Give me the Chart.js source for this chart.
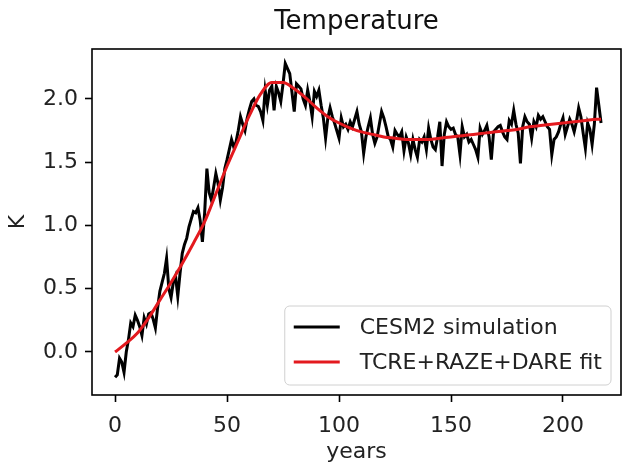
<!DOCTYPE html>
<html>
<head>
<meta charset="utf-8">
<script src="https://cdn.jsdelivr.net/npm/chart.js@4"></script>
<style>
  body { margin: 0; background: #fff; }
  canvas { display: block; }
</style>
</head>
<body>
<canvas id="tempChart" width="624" height="465"></canvas>
<script>
// CESM2 simulated temperature, one value per year (year 0..217)
const simTemp = [
  -0.20, -0.18, -0.05, -0.08, -0.16, 0.00, 0.10, 0.23, 0.20, 0.29,
  0.25, 0.20, 0.13, 0.27, 0.22, 0.30, 0.31, 0.26, 0.19, 0.35,
  0.48, 0.55, 0.62, 0.74, 0.50, 0.43, 0.55, 0.60, 0.44, 0.62,
  0.78, 0.85, 0.90, 0.99, 1.05, 1.11, 1.10, 1.14, 1.04, 0.87,
  1.10, 1.45, 1.26, 1.20, 1.30, 1.41, 1.33, 1.20, 1.30, 1.45,
  1.52, 1.60, 1.68, 1.62, 1.66, 1.75, 1.86, 1.80, 1.75, 1.85,
  1.92, 1.98, 2.00, 1.95, 1.94, 1.90, 1.83, 2.07, 1.95, 2.07,
  2.10, 1.91, 2.10, 2.05, 1.98, 2.12, 2.28, 2.24, 2.20, 2.05,
  1.90, 2.12, 2.10, 2.08, 2.00, 1.95, 2.07, 1.98, 1.86, 2.06,
  2.02, 2.07, 1.95, 1.85, 1.69, 1.85, 1.93, 1.86, 1.81, 1.75,
  1.69, 1.85, 1.78, 1.80, 1.76, 1.82, 1.78, 1.84, 1.90, 1.80,
  1.74, 1.57, 1.70, 1.78, 1.85, 1.72, 1.65, 1.70, 1.80, 1.90,
  1.85, 1.78, 1.70, 1.68, 1.62, 1.75, 1.72, 1.70, 1.74, 1.59,
  1.70, 1.65, 1.56, 1.68, 1.60, 1.54, 1.68, 1.66, 1.70, 1.60,
  1.77, 1.68, 1.62, 1.60, 1.70, 1.82, 1.47, 1.72, 1.82, 1.78,
  1.76, 1.77, 1.72, 1.70, 1.56, 1.78, 1.70, 1.72, 1.66, 1.68,
  1.64, 1.60, 1.54, 1.77, 1.72, 1.75, 1.79, 1.70, 1.52, 1.74,
  1.76, 1.78, 1.79, 1.74, 1.70, 1.68, 1.83, 1.80, 1.91, 1.80,
  1.73, 1.49, 1.78, 1.86, 1.82, 1.80, 1.69, 1.82, 1.78, 1.87,
  1.84, 1.86, 1.82, 1.78, 1.76, 1.56, 1.68, 1.70, 1.74, 1.80,
  1.85, 1.72, 1.78, 1.84, 1.80, 1.74, 1.82, 1.93, 1.86, 1.73,
  1.61, 1.81, 1.76, 1.64, 1.80, 2.09, 1.95, 1.81
];

// TCRE+RAZE+DARE fit, read every 5 years
const fitYears = [0, 5, 10, 15, 20, 25, 30, 35, 40, 45, 50, 55, 60, 65, 70, 75, 80, 85, 90, 95,
  100, 105, 110, 115, 120, 125, 130, 135, 140, 145, 150, 155, 160, 165, 170, 175, 180, 185,
  190, 195, 200, 205, 210, 215, 217];
const fitTemp = [0.00, 0.07, 0.15, 0.27, 0.41, 0.55, 0.70, 0.86, 1.03, 1.25, 1.47, 1.67, 1.87,
  2.04, 2.13, 2.13, 2.08, 2.01, 1.93, 1.86, 1.81, 1.77, 1.74, 1.72, 1.70, 1.69, 1.68, 1.68,
  1.68, 1.69, 1.70, 1.71, 1.72, 1.73, 1.74, 1.75, 1.76, 1.78, 1.79, 1.80, 1.81, 1.82, 1.83,
  1.84, 1.84];

const xTicks = [0, 50, 100, 150, 200];
const yTicks = [0.0, 0.5, 1.0, 1.5, 2.0];

const FONT = '"DejaVu Sans", sans-serif';
Chart.defaults.font.family = FONT;
Chart.defaults.color = '#000';

// matplotlib-style full box around the axes
const frameBox = {
  id: 'frameBox',
  afterDatasetsDraw(chart) {
    const { ctx, chartArea: a } = chart;
    ctx.save();
    ctx.strokeStyle = '#000';
    ctx.lineWidth = 1.6;
    ctx.strokeRect(a.left, a.top, a.right - a.left, a.bottom - a.top);
    ctx.restore();
  }
};

// legend drawn inside the lower right corner of the axes
const innerLegend = {
  id: 'innerLegend',
  afterDraw(chart) {
    const { ctx, chartArea: a } = chart;
    const sets = chart.data.datasets;
    ctx.save();
    ctx.font = '22px ' + FONT;
    const textW = Math.max(...sets.map(d => ctx.measureText(d.label).width));
    const pad = 9, handle = 46, gap = 20;
    const w = pad + handle + gap + textW + pad;
    const h = 79;
    const right = a.right - 10, bottom = a.bottom - 10;
    const left = right - w, top = bottom - h;

    ctx.beginPath();
    ctx.roundRect(left, top, w, h, 5);
    ctx.fillStyle = 'rgba(255,255,255,0.8)';
    ctx.fill();
    ctx.strokeStyle = '#d0d0d0';
    ctx.lineWidth = 1;
    ctx.stroke();

    const rows = [top + 21, top + 56];
    sets.forEach((d, i) => {
      const y = rows[i];
      ctx.beginPath();
      ctx.moveTo(left + pad, y);
      ctx.lineTo(left + pad + handle, y);
      ctx.strokeStyle = d.borderColor;
      ctx.lineWidth = 3;
      ctx.stroke();
      ctx.fillStyle = '#222';
      ctx.textAlign = 'left';
      ctx.textBaseline = 'middle';
      ctx.fillText(d.label, left + pad + handle + gap, y + 1);
    });
    ctx.restore();
  }
};

new Chart(document.getElementById('tempChart'), {
  type: 'line',
  data: {
    datasets: [
      {
        label: 'CESM2 simulation',
        data: simTemp.map((v, i) => ({ x: i, y: v })),
        borderColor: '#000',
        borderWidth: 3,
        pointRadius: 0,
        tension: 0,
        order: 1
      },
      {
        label: 'TCRE+RAZE+DARE fit',
        data: fitYears.map((x, i) => ({ x, y: fitTemp[i] })),
        borderColor: '#e3191e',
        borderWidth: 3,
        pointRadius: 0,
        cubicInterpolationMode: 'monotone',
        order: 0
      }
    ]
  },
  options: {
    responsive: false,
    animation: false,
    layout: { padding: { left: 0, right: 3, top: 0, bottom: 0 } },
    plugins: {
      legend: { display: false },
      tooltip: { enabled: false },
      title: {
        display: true,
        text: 'Temperature',
        fullSize: false,
        color: '#111',
        font: { size: 26, weight: 'normal', lineHeight: 1.2 },
        padding: { top: 7, bottom: 10.8 }
      }
    },
    scales: {
      x: {
        type: 'linear',
        min: -10.3,
        max: 225.9,
        afterBuildTicks(scale) { scale.ticks = xTicks.map(v => ({ value: v })); },
        afterFit(scale) { scale.height = 70; },
        ticks: { padding: 11, font: { size: 22 }, color: '#222', maxRotation: 0, callback: v => String(v) },
        grid: { drawOnChartArea: false, tickLength: 7, tickColor: '#000', tickWidth: 1.6 },
        border: { display: false },
        title: { display: true, text: 'years', color: '#222', font: { size: 22 }, padding: { top: 0, bottom: 0 } }
      },
      y: {
        type: 'linear',
        min: -0.34,
        max: 2.395,
        afterBuildTicks(scale) { scale.ticks = yTicks.map(v => ({ value: v })); },
        afterFit(scale) { scale.width = 92; },
        ticks: { padding: 7, font: { size: 22 }, color: '#222', callback: v => v.toFixed(1) },
        grid: { drawOnChartArea: false, tickLength: 7, tickColor: '#000', tickWidth: 1.6 },
        border: { display: false },
        title: { display: true, text: 'K', color: '#222', font: { size: 22 }, padding: { top: 5, bottom: 0 } }
      }
    }
  },
  plugins: [frameBox, innerLegend]
});
</script>
</body>
</html>
